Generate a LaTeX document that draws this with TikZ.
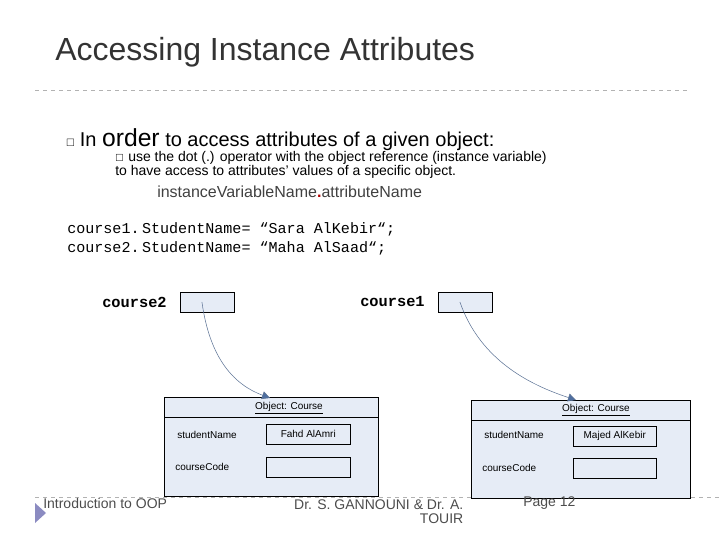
\documentclass[tikz,border=0pt]{standalone}
\usepackage{amssymb}
\usepackage{fontspec}
\setmainfont{Liberation Sans}
\setmonofont{Liberation Mono}
\usetikzlibrary{arrows.meta}
\definecolor{boxfill}{HTML}{E6ECF6}
\definecolor{arrowblue}{HTML}{4F6FA0}
\definecolor{titlegray}{HTML}{333333}
\tikzset{
  fs/.style={font=\fontsize{#1}{#1}\selectfont},
  valbox/.style={draw,fill=boxfill,minimum width=#1*0.75pt,minimum height=15pt,inner sep=0pt,fs=7.5},
  objbox/.style={draw,fill=boxfill,inner sep=0pt},
  refarrow/.style={draw=arrowblue!70!gray,-{Triangle[fill=arrowblue,length=6pt,width=6pt]}},
  txt/.style={anchor=west,inner sep=0pt},
}
\begin{document}
\begin{tikzpicture}[x=0.75pt,y=-0.75pt]
  \useasboundingbox (0,0) rectangle (720,540);
  % title and rules
  \node[txt,fs=24,text=titlegray] (title) at (55,52) {Accessing Instance Attributes};
  \draw[gray!60,dashed] (35,90) -- (690,90);
  \draw[gray!60,dashed] (35,497) -- (720,497);
  % bullets
  \node[txt,fs=15] (b1) at (66,140) {\fontsize{8}{8}\selectfont$\square$\enspace\fontsize{15}{15}\selectfont In {\fontsize{18.5}{18.5}\selectfont order} to access attributes of a given object:};
  \node[txt,fs=10.5,align=left] (b2) at (115,165) {\fontsize{7}{7}\selectfont$\square$\enspace\fontsize{10.5}{8.5}\selectfont use the dot (.) operator with the object reference (instance variable)\\ \hspace{0pt}to have access to attributes' values of a specific object.};
  \node[txt,fs=12,text=black!75] (syntax) at (157,192) {instanceVariableName{\color{red!70!black}\textbf{.}}attributeName};
  \node[txt,font=\ttfamily\fontsize{11.3}{11.3}\selectfont] (code1) at (67,229) {course1.\,StudentName=\ “Sara AlKebir“;};
  \node[txt,font=\ttfamily\fontsize{11.3}{11.3}\selectfont] (code2) at (67,248) {course2.\,StudentName=\ “Maha AlSaad“;};
  % references
  \node[txt,font=\ttfamily\bfseries\fontsize{11.5}{11.5}\selectfont] (lbl2) at (102,302) {course2};
  \node[valbox=54,anchor=west] (ref2) at (180,302) {};
  \node[txt,font=\ttfamily\bfseries\fontsize{11.5}{11.5}\selectfont] (lbl1) at (360,302) {course1};
  \node[valbox=54,anchor=west] (ref1) at (438,302) {};
  % object 1
  \draw[objbox] (164,397) rectangle (378,496);
  \draw (164,417) -- (378,417);
  \coordinate (top2) at (270,398);
  \node[fs=7.5] (hd2) at (289,408) {\underline{Object: Course}};
  \node[txt,fs=7.5] (sn2) at (177,435) {studentName};
  \node[valbox=84,anchor=west] (v2) at (266,434) {Fahd AlAmri};
  \node[txt,fs=7.5] (cc2) at (175,467) {courseCode};
  \node[valbox=84,anchor=west] (c2) at (266,467) {};
  % object 2
  \draw[objbox] (471,400) rectangle (690,498);
  \draw (471,420) -- (690,420);
  \coordinate (top1) at (576,400);
  \node[fs=7.5] (hd1) at (596,410) {\underline{Object: Course}};
  \node[txt,fs=7.5] (sn1) at (484,435) {studentName};
  \node[valbox=83,anchor=west] (v1) at (573,436) {Majed AlKebir};
  \node[txt,fs=7.5] (cc1) at (482,468) {courseCode};
  \node[valbox=83,anchor=west] (c1) at (573,468) {};
  % arrows
  \draw[refarrow] ([xshift=-4pt]ref2.center) .. controls (210,360) and (235,385) .. (top2);
  \draw[refarrow] ([xshift=-4pt]ref1.center) .. controls (480,360) and (530,385) .. (top1);
  % footer
  \node[txt,fs=10.5,text=black!70] (foot1) at (43,503) {Introduction to OOP};
  \node[fs=10.5,text=black!70,align=right,anchor=north east] (foot2) at (468,495) {Dr. S. GANNOUNI \& Dr. A.\\TOUIR};
  \node[txt,fs=10.5,text=black!70] (foot3) at (523,503) {Page 12};
  \fill[blue!30!gray!70] (35,503) -- (46,513) -- (35,523) -- cycle;
\end{tikzpicture}
\end{document}
